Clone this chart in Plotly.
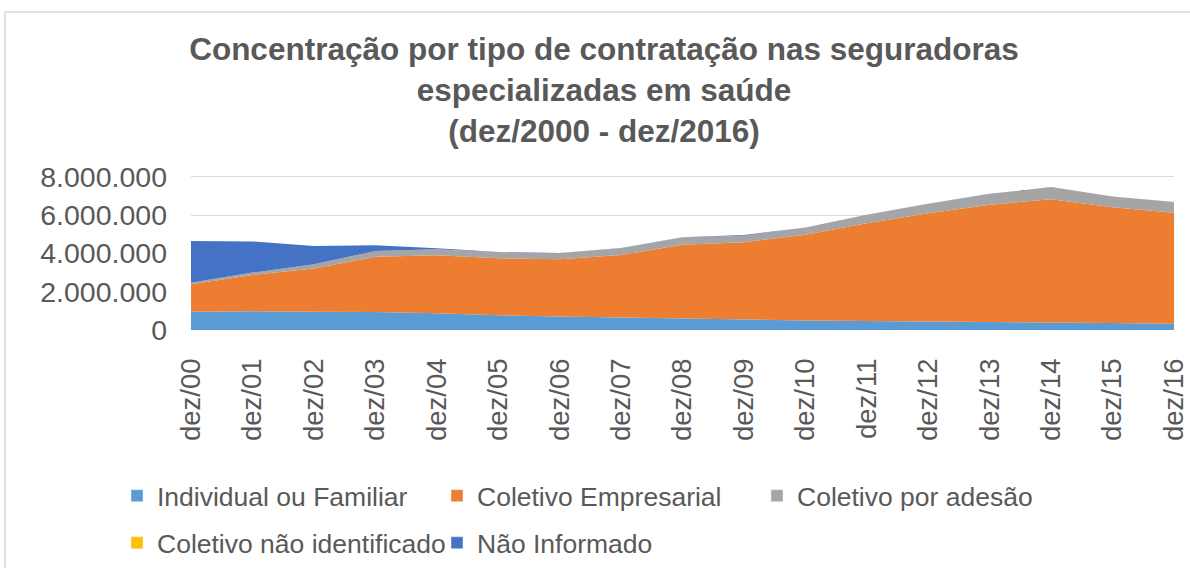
import plotly.graph_objects as go

categories = ["dez/00", "dez/01", "dez/02", "dez/03", "dez/04", "dez/05", "dez/06", "dez/07",
              "dez/08", "dez/09", "dez/10", "dez/11", "dez/12", "dez/13", "dez/14", "dez/15", "dez/16"]

individual = [960000, 980000, 960000, 940000, 870000, 770000, 710000, 660000, 580000,
              540000, 500000, 470000, 450000, 420000, 400000, 370000, 330000]
empresarial = [1430000, 1900000, 2260000, 2890000, 3030000, 2980000, 2990000, 3260000, 3880000,
               4040000, 4480000, 5110000, 5650000, 6130000, 6430000, 6040000, 5800000]
adesao = [80000, 120000, 210000, 300000, 320000, 310000, 310000, 350000, 370000,
          350000, 370000, 430000, 490000, 560000, 630000, 560000, 550000]
nao_identificado = [0, 0, 0, 0, 0, 0, 0, 0, 0, 0, 0, 0, 0, 0, 0, 0, 0]
nao_informado = [2180000, 1630000, 960000, 300000, 50000, 20000, 10000, 10000, 20000,
                 30000, 10000, 10000, 10000, 10000, 10000, 10000, 10000]

series_names = ["Individual ou Familiar", "Coletivo Empresarial", "Coletivo por adesão",
                "Coletivo não identificado", "Não Informado"]
series_values = [individual, empresarial, adesao, nao_identificado, nao_informado]
colors = ["#5B9BD5", "#ED7D31", "#A5A5A5", "#FFC000", "#4472C4"]
legend_ids = ["legend", "legend", "legend", "legend2", "legend2"]

FONT = "Liberation Sans, Arial, sans-serif"
TXT = "#595959"

fig = go.Figure()
for name, vals, col in zip(series_names, series_values, colors):
    fig.add_trace(go.Scatter(
        x=categories, y=vals, name=name, mode="lines",
        line=dict(width=0, color=col), fillcolor=col,
        stackgroup="one", showlegend=False, hoverinfo="x+y+name"))

# legend entries (square swatches)
for name, col, lg in zip(series_names, colors, legend_ids):
    fig.add_trace(go.Bar(x=[None], y=[None], name=name, marker=dict(color=col),
                         showlegend=True, legend=lg))

W, H = 1190, 568
L, R, T, B = 191, 16, 175, 238
pw = W - L - R
ph = H - T - B

def px_x(p):
    return (p - L) / pw

def px_y(p):
    return (H - B - p) / ph

fig.update_layout(
    width=W, height=H,
    margin=dict(l=L, r=R, t=T, b=B, autoexpand=False),
    paper_bgcolor="white", plot_bgcolor="white",
    separators=",.",
    font=dict(family=FONT, color=TXT),
    title=dict(
        text="Concentração por tipo de contratação nas seguradoras<br>especializadas em saúde<br>(dez/2000 - dez/2016)",
        font=dict(family=FONT, size=31.5, color=TXT, weight="bold"),
        x=604 / W, xanchor="center", xref="container",
        y=1 - 60 / H, yanchor="top", yref="container"),
    xaxis=dict(type="category", range=[0, len(categories) - 1],
               tickangle=-90, tickfont=dict(size=27.5, color=TXT),
               showgrid=False, showline=False, ticks="", zeroline=False,
               ticklabelstandoff=22),
    yaxis=dict(range=[0, 8100000], tickvals=[0, 2000000, 4000000, 6000000, 8000000],
               tickformat=",d",
               tickfont=dict(size=28.5, color=TXT),
               showgrid=True, gridcolor="#D9D9D9", gridwidth=1.2,
               zeroline=False, showline=False, ticks="",
               ticklabelstandoff=23),
    legend=dict(orientation="h", xref="container", yref="container",
                x=117 / W, xanchor="left", y=1 - 496 / H, yanchor="middle",
                entrywidth=275, font=dict(size=26.5, color=TXT, family=FONT),
                bgcolor="rgba(0,0,0,0)", traceorder="normal"),
    legend2=dict(orientation="h", xref="container", yref="container",
                 x=117 / W, xanchor="left", y=1 - 543 / H, yanchor="middle",
                 entrywidth=275, font=dict(size=26.5, color=TXT, family=FONT),
                 bgcolor="rgba(0,0,0,0)", traceorder="normal"),
    shapes=[dict(type="rect", xref="paper", yref="paper",
                 x0=px_x(5), x1=px_x(1200), y0=px_y(580), y1=px_y(12),
                 line=dict(color="#D9D9D9", width=1.5), fillcolor="rgba(0,0,0,0)",
                 layer="below")],
)

fig.write_html("out.html", config={"displayModeBar": False},
               post_script="document.body.style.margin='0';document.body.style.overflow='hidden';")
